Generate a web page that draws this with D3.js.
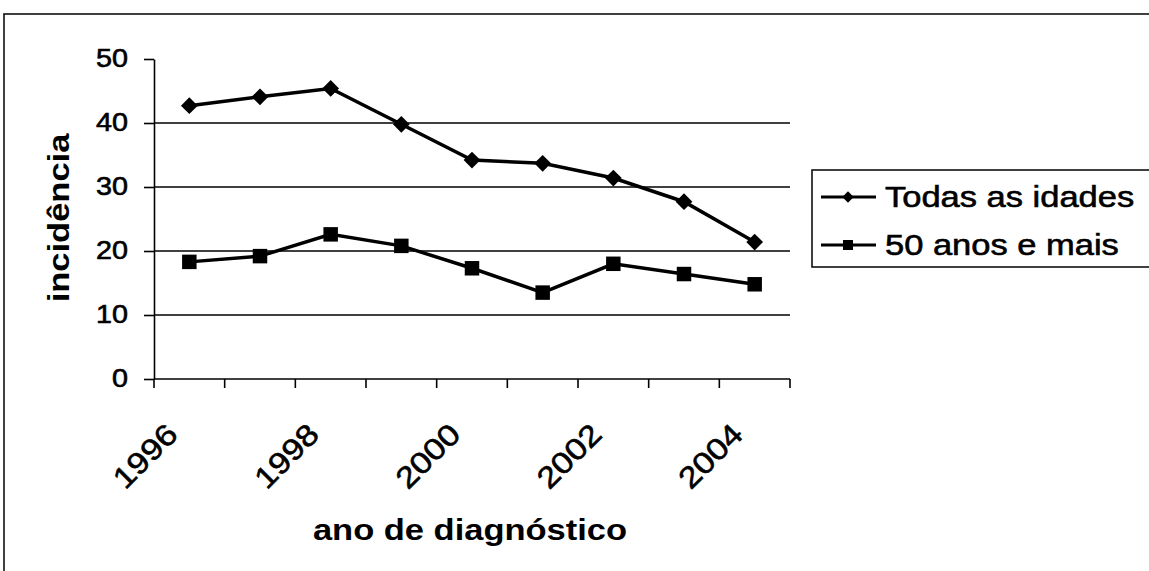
<!DOCTYPE html>
<html>
<head>
<meta charset="utf-8">
<script src="https://cdn.jsdelivr.net/npm/d3@7"></script>
<style>
  body { margin: 0; background: #fff; }
  text { font-family: "Liberation Sans", Arial, sans-serif; fill: #000; }
  text.reg { stroke: #000; stroke-width: 0.6px; }
</style>
</head>
<body>
<div id="chart"></div>
<script>
// data
let years = ['1996', '1997', '1998', '1999', '2000', '2001', '2002', '2003', '2004'];
let year_labels = ['1996', '1998', '2000', '2002', '2004'];
let todas = [42.7, 44.1, 45.4, 39.8, 34.2, 33.7, 31.4, 27.7, 21.4];
let cinquenta = [18.3, 19.2, 22.6, 20.8, 17.3, 13.5, 18.0, 16.4, 14.8];
let series_names = ['Todas as idades', '50 anos e mais'];
let y_ticks = [0, 10, 20, 30, 40, 50];

let W = 1149, H = 571;
let plot_left = 154, plot_right = 790, plot_top = 59, plot_bottom = 379;
let stretch = 1.15;

let svg = d3.select('#chart').append('svg:svg')
  .attr('width', W)
  .attr('height', H);

// outer chart border
svg.append('rect')
  .attr('x', 4).attr('y', 14)
  .attr('width', W + 20).attr('height', H + 20)
  .attr('fill', 'none').attr('stroke', '#000').attr('stroke-width', 1.5);

let x = d3.scaleBand().domain(years).range([plot_left, plot_right]).padding(0);
let y = d3.scaleLinear().domain([0, 50]).range([plot_bottom, plot_top]);

// gridlines
svg.append('g')
  .selectAll('line')
  .data(y_ticks.filter(t => t > 0 && t < 50))
  .join('line')
  .attr('x1', plot_left).attr('x2', plot_right)
  .attr('y1', d => y(d)).attr('y2', d => y(d))
  .attr('stroke', '#000').attr('stroke-width', 1.6);

// y axis
let yaxis = svg.append('g')
  .attr('transform', 'translate(' + plot_left + ',0)')
  .call(d3.axisLeft(y).tickValues(y_ticks).tickSize(10).tickSizeOuter(0).tickFormat(d => ''));
yaxis.select('.domain').attr('stroke-width', 1.6);
yaxis.selectAll('line').attr('stroke-width', 1.6);

svg.append('g')
  .selectAll('text')
  .data(y_ticks)
  .join('text')
  .attr('class', 'reg')
  .attr('transform', d => 'translate(128,' + y(d) + ') scale(' + stretch + ',1)')
  .attr('text-anchor', 'end')
  .attr('dominant-baseline', 'central')
  .attr('font-size', 25)
  .text(d => d);

// x axis, ticks between categories
let bounds = years.map(d => x(d)).concat([plot_right]);
svg.append('line')
  .attr('x1', plot_left).attr('x2', plot_right)
  .attr('y1', plot_bottom).attr('y2', plot_bottom)
  .attr('stroke', '#000').attr('stroke-width', 1.6);
svg.append('g')
  .selectAll('line')
  .data(bounds)
  .join('line')
  .attr('x1', d => d).attr('x2', d => d)
  .attr('y1', plot_bottom).attr('y2', plot_bottom + 9)
  .attr('stroke', '#000').attr('stroke-width', 1.6);

svg.append('g')
  .selectAll('text')
  .data(year_labels)
  .join('text')
  .attr('class', 'reg')
  .attr('transform', d => 'translate(' + (x(d) + x.bandwidth() / 2 - 17) + ',' + (plot_bottom + 50) + ') rotate(-45) scale(' + stretch + ',1)')
  .attr('text-anchor', 'end')
  .attr('dominant-baseline', 'central')
  .attr('font-size', 30)
  .text(d => d);

// axis titles
svg.append('text')
  .attr('transform', 'translate(470,540) scale(' + stretch + ',1)')
  .attr('text-anchor', 'middle')
  .attr('font-size', 30)
  .attr('font-weight', 'bold')
  .text('ano de diagnóstico');

svg.append('text')
  .attr('transform', 'translate(59,218) rotate(-90) scale(' + stretch + ',1)')
  .attr('text-anchor', 'middle')
  .attr('dominant-baseline', 'central')
  .attr('font-size', 30)
  .attr('font-weight', 'bold')
  .text('incidência');

// series: diamond is a square turned 45 degrees
let cx = d => x(d) + x.bandwidth() / 2;
let line = d3.line().x((d, i) => cx(years[i])).y(d => y(d));
let series = [todas, cinquenta];
let rotations = [45, 0];
let big_sizes = [140, 210];
let small_sizes = [64, 100];

series.forEach(function(vals, k) {
  svg.append('path')
    .datum(vals)
    .attr('d', line)
    .attr('fill', 'none')
    .attr('stroke', '#000')
    .attr('stroke-width', 3.5);
  svg.append('g')
    .selectAll('path')
    .data(vals)
    .join('path')
    .attr('transform', (d, i) => 'translate(' + cx(years[i]) + ',' + y(d) + ') rotate(' + rotations[k] + ')')
    .attr('d', d3.symbol().type(d3.symbolSquare).size(big_sizes[k]))
    .attr('fill', '#000');
});

// legend
let legend = svg.append('g').attr('transform', 'translate(812,170)');
legend.append('rect')
  .attr('x', 0).attr('y', 0)
  .attr('width', 360).attr('height', 97)
  .attr('fill', '#fff').attr('stroke', '#000').attr('stroke-width', 1.5);

let rows = legend.selectAll('g.row')
  .data(series_names)
  .join('g')
  .attr('class', 'row')
  .attr('transform', (d, i) => 'translate(0,' + (27 + i * 48) + ')');
rows.append('line')
  .attr('x1', 9).attr('x2', 64)
  .attr('stroke', '#000').attr('stroke-width', 3);
rows.append('path')
  .attr('transform', (d, i) => 'translate(36,0) rotate(' + rotations[i] + ')')
  .attr('d', (d, i) => d3.symbol().type(d3.symbolSquare).size(small_sizes[i])())
  .attr('fill', '#000');
rows.append('text')
  .attr('class', 'reg')
  .attr('transform', 'translate(73,0) scale(' + stretch + ',1)')
  .attr('dominant-baseline', 'central')
  .attr('font-size', 30)
  .text(d => d);
</script>
</body>
</html>
